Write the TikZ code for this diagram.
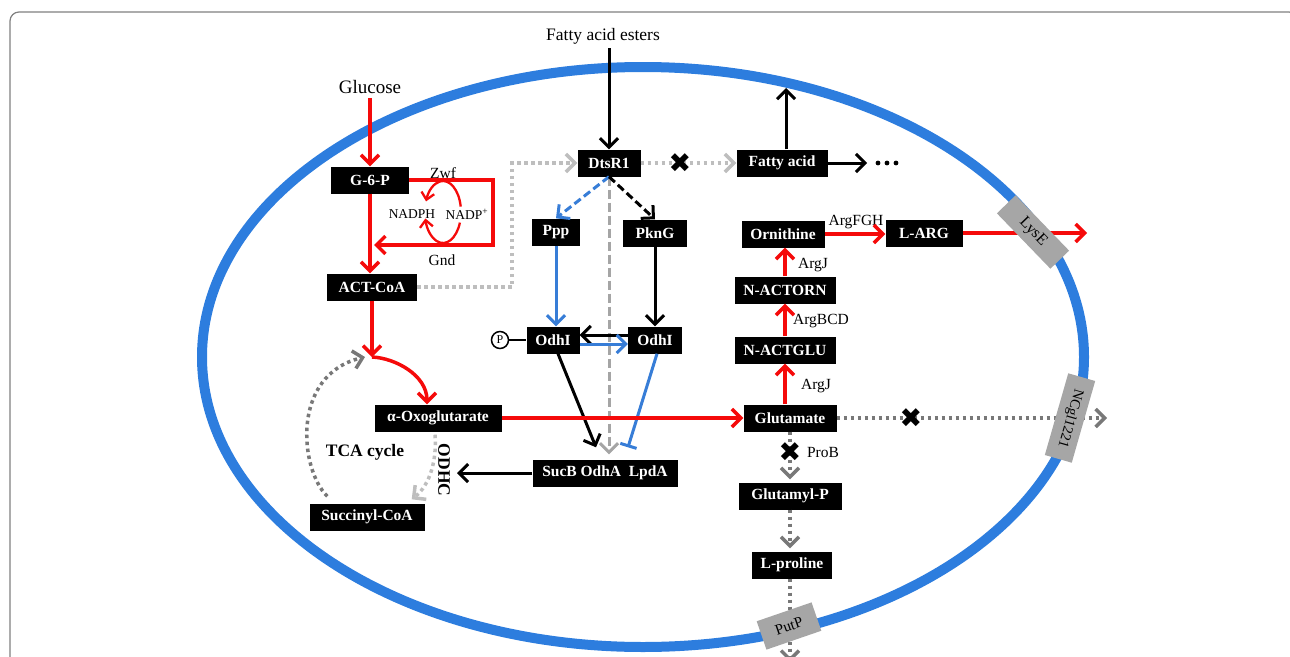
\documentclass[tikz,border=0pt]{standalone}
\usepackage{fontspec}
\setmainfont{Liberation Serif}
\newfontfamily\symfont{DejaVu Sans}
\usetikzlibrary{arrows.meta,calc}
\definecolor{myred}{RGB}{245,10,10}
\definecolor{memblue}{RGB}{45,125,222}
\definecolor{arrblue}{RGB}{55,125,215}
\definecolor{ltgrey}{RGB}{190,190,190}
\definecolor{mdgrey}{RGB}{165,165,165}
\definecolor{dkgrey}{RGB}{120,120,120}
\definecolor{tpgrey}{RGB}{166,166,166}
\begin{document}
\begin{tikzpicture}[x=1pt,y=1pt,
  mbox/.style={fill=black,text=white,font=\fontsize{15.5}{16}\selectfont\bfseries,minimum height=27pt,inner sep=0pt},
  lbl/.style={font=\fontsize{15.5}{16}\selectfont,inner sep=0pt},
  tport/.style={fill=tpgrey,font=\fontsize{14.5}{15}\selectfont,inner sep=0pt},
  arrtip/.style={-{Straight Barb[length=9pt,width=18pt]}},
  redarr/.style={myred,line width=3.5pt,arrtip},
  blkarr/.style={black,line width=3pt,arrtip},
  bluarr/.style={arrblue,line width=3pt,arrtip},
  ldot/.style={ltgrey,line width=3.5pt,dash pattern=on 3.5pt off 3.5pt,arrtip},
  ddot/.style={dkgrey,line width=3.5pt,dash pattern=on 3.5pt off 3.5pt,arrtip},
  xmark/.style={font=\symfont\fontsize{27}{27}\selectfont,inner sep=0pt}
]
\useasboundingbox (0,0) rectangle (1290,-656);
% frame
\draw[gray,line width=1.2pt,rounded corners=9pt] (10,-700) -- (10,-12) -- (1298,-12) -- (1298,-700);
% membrane
\draw[memblue,line width=10pt] (643,-357) ellipse [x radius=441pt, y radius=290pt];

% boxes
\node[mbox,minimum width=63pt] (dts) at (609,-163) {DtsR1};
\node[mbox,minimum width=91pt] (fa) at (782,-163) {Fatty acid};
\node[mbox,minimum width=78pt] (g6p) at (370,-180) {G-6-P};
\node[mbox,minimum width=90pt] (act) at (372,-287) {ACT-CoA};
\node[mbox,minimum width=48pt] (ppp) at (556,-232) {Ppp};
\node[mbox,minimum width=64pt] (pkn) at (655,-233) {PknG};
\node[mbox,minimum width=53pt] (odhL) at (553,-340) {OdhI};
\node[mbox,minimum width=54pt] (odhR) at (655,-340) {OdhI};
\node[mbox,minimum width=145pt] (suc) at (605,-473) {SucB OdhA\ \ LpdA};
\node[mbox,minimum width=127pt] (oxo) at (438,-418) {α-Oxoglutarate};
\node[mbox,minimum width=115pt] (scoa) at (367,-517) {Succinyl-CoA};
\node[mbox,minimum width=83pt] (orn) at (783,-234) {Ornithine};
\node[mbox,minimum width=77pt] (larg) at (924,-233) {L-ARG};
\node[mbox,minimum width=101pt] (nacto) at (785,-290) {N-ACTORN};
\node[mbox,minimum width=101pt] (nactg) at (785,-350) {N-ACTGLU};
\node[mbox,minimum width=93pt] (glu) at (790,-418) {Glutamate};
\node[mbox,minimum width=103pt] (glup) at (790,-496) {Glutamyl-P};
\node[mbox,minimum width=80pt] (lpro) at (792,-565) {L-proline};

% text labels
\node[lbl,font=\fontsize{19}{20}\selectfont] (glc) at (370,-87) {Glucose};
\node[lbl,font=\fontsize{17.5}{18}\selectfont] (fae) at (603,-36) {Fatty acid esters};
\node[lbl] (zwf) at (443,-173) {Zwf};
\node[lbl] (gnd) at (442,-260) {Gnd};
\node[lbl,font=\fontsize{13.5}{14}\selectfont] (nadph) at (412,-214) {NADPH};
\node[lbl,font=\fontsize{13.5}{14}\selectfont] (nadp) at (467,-214) {NADP\textsuperscript{+}};
\node[lbl,font=\fontsize{17.5}{18}\selectfont\bfseries] (tca) at (365,-452) {TCA cycle};
\node[lbl,font=\fontsize{17.5}{18}\selectfont\bfseries,rotate=-90] (odhc) at (444,-470) {ODHC};
\node[lbl] (argfgh) at (856,-222) {ArgFGH};
\node[lbl] (argj1) at (813,-265) {ArgJ};
\node[lbl] (argbcd) at (821,-321) {ArgBCD};
\node[lbl] (argj2) at (816,-386) {ArgJ};
\node[lbl] (prob) at (823,-452) {ProB};
\node[circle,draw,line width=1.5pt,fill=white,inner sep=0pt,minimum size=17pt,font=\fontsize{12}{12}\selectfont] (pc) at (500,-340) {P};

% coordinates for free ends
\coordinate (gndpt) at (373,-245);
\coordinate (tcaj) at (372,-357);
\coordinate (faout) at (786,-88);
\coordinate (fadots) at (867,-163);
\coordinate (odhcpt) at (457,-473);
\coordinate (argout) at (1087,-233);
\coordinate (gluout) at (1107,-418);
\coordinate (proout) at (790,-662);

% glucose branch
\draw[redarr,shorten <=4pt] (glc.south) -- (g6p.north);
\draw[redarr] (g6p.south) -- (g6p.south |- act.north);
\draw[redarr,shorten >=1pt] (g6p.east) -- ++(84,0) |- (gndpt);
\draw[myred,line width=2.3pt,-{Straight Barb[length=7pt,width=13pt]}] (460.7,-206.6) arc[start angle=10,end angle=160,x radius=18pt,y radius=31pt];
\draw[myred,line width=2.3pt,-{Straight Barb[length=7pt,width=13pt]}] (459.9,-222.6) arc[start angle=-20,end angle=-168,x radius=18pt,y radius=31pt];
\draw[redarr] (act.south) -- (tcaj);
\draw[redarr] (tcaj) .. controls (395,-358) and (427,-375) .. ($(oxo.north)+(-11,0)$);
% TCA cycle
\draw[ddot] ($(scoa.north west)+(18,7)$) .. controls (300,-470) and (290,-375) .. ($(tcaj)+(-7,0)$);
\draw[ldot] ($(oxo.south)+(-3,-3)$) .. controls (437,-460) and (430,-485) .. ($(scoa.north east)+(-13,4)$);
\draw[blkarr] (suc.west) -- (odhcpt);
% DtsR1 region
\draw[ldot] (act.east) -- ++(95,0) |- (dts.west);
\draw[blkarr,shorten <=4pt] (dts.north |- fae.south) -- (dts.north);
\draw[ldot] (dts.east) -- (fa.west);
\draw[blkarr] (fa.north -| faout) -- (faout);
\draw[blkarr] (fa.east) -- (fadots);
\fill (878,-163) circle[radius=2.4pt] (887,-163) circle[radius=2.4pt] (896,-163) circle[radius=2.4pt];
\draw[mdgrey,line width=3pt,dash pattern=on 9pt off 4pt,arrtip,shorten >=5pt] (dts.south) -- (dts.south |- suc.north);
\draw[arrblue,line width=3pt,dash pattern=on 8pt off 4pt,arrtip] (dts.south) -- (ppp.north);
\draw[black,line width=3pt,dash pattern=on 8pt off 4pt,arrtip] (dts.south) -- (pkn.north);
\draw[bluarr] (ppp.south) -- (odhL.north -| ppp.south);
\draw[blkarr] (pkn.south) -- (odhR.north -| pkn.south);
\draw[blkarr] ($(odhR.west)+(0,5)$) -- ($(odhL.east)+(0,5)$);
\draw[bluarr] ($(odhL.east)+(0,-4)$) -- ($(odhR.west)+(0,-4)$);
\draw[line width=2.3pt] (pc.east) -- (odhL.west);
\draw[blkarr] ($(odhL.south)+(5,0)$) -- ($(suc.north)+(-9,12)$);
\draw[arrblue,line width=3pt,-{Bar[width=17pt,line width=3pt]}] ($(odhR.south)+(2,0)$) -- ($(suc.north)+(23,12)$);
% arginine branch
\draw[redarr] (oxo.east) -- (glu.west);
\draw[redarr] (glu.north -| nactg.south) -- (nactg.south);
\draw[redarr] (nactg.north) -- (nacto.south);
\draw[redarr] (nacto.north) -- (orn.south -| nacto.north);
\draw[redarr] (orn.east) -- (larg.west |- orn.east);
\draw[redarr] (larg.east) -- (argout);
% proline / export
\draw[ddot] (glu.east) -- (gluout);
\draw[ddot,shorten >=3pt] (glu.south) -- (glup.north);
\draw[ddot,shorten >=3pt] (glup.south) -- (lpro.north -| glup.south);
\draw[ddot] (lpro.south -| proout) -- (proout);
% crosses
\node[xmark] (x1) at (680,-163) {✖};
\node[xmark] (x2) at (911,-418) {✖};
\node[xmark] (x3) at (790,-452) {✖};
% transporters
\node[tport,minimum width=77pt,minimum height=26pt,rotate=-46,font=\fontsize{16}{16}\selectfont] (lyse) at (1033,-232) {LysE};
\node[tport,minimum width=85pt,minimum height=28pt,rotate=-106] (ncgl) at (1070,-418) {NCgl1221};
\node[tport,minimum width=58pt,minimum height=30pt,rotate=19,font=\fontsize{15}{15}\selectfont] (putp) at (789,-626) {PutP};
\end{tikzpicture}
\end{document}
